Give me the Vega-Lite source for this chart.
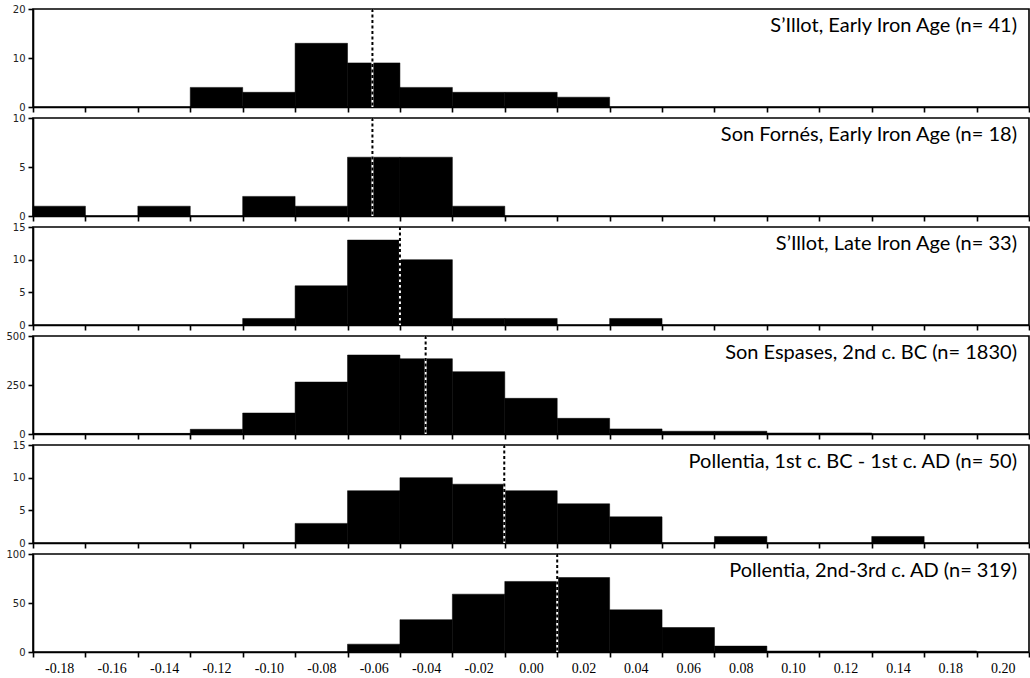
{
  "$schema": "https://vega.github.io/schema/vega-lite/v6.json",
  "padding": {"left": 5, "top": 3, "right": 2, "bottom": 0},
  "background": "white",
  "spacing": 11,
  "bounds": "flush",
  "datasets": {
    "bars": [
      {"panel": 1, "bin_start": -0.13, "bin_end": -0.11, "count": 4},
      {"panel": 1, "bin_start": -0.11, "bin_end": -0.09, "count": 3},
      {"panel": 1, "bin_start": -0.09, "bin_end": -0.07, "count": 13},
      {"panel": 1, "bin_start": -0.07, "bin_end": -0.05, "count": 9},
      {"panel": 1, "bin_start": -0.05, "bin_end": -0.03, "count": 4},
      {"panel": 1, "bin_start": -0.03, "bin_end": -0.01, "count": 3},
      {"panel": 1, "bin_start": -0.01, "bin_end": 0.01, "count": 3},
      {"panel": 1, "bin_start": 0.01, "bin_end": 0.03, "count": 2},
      {"panel": 2, "bin_start": -0.19, "bin_end": -0.17, "count": 1},
      {"panel": 2, "bin_start": -0.15, "bin_end": -0.13, "count": 1},
      {"panel": 2, "bin_start": -0.11, "bin_end": -0.09, "count": 2},
      {"panel": 2, "bin_start": -0.09, "bin_end": -0.07, "count": 1},
      {"panel": 2, "bin_start": -0.07, "bin_end": -0.05, "count": 6},
      {"panel": 2, "bin_start": -0.05, "bin_end": -0.03, "count": 6},
      {"panel": 2, "bin_start": -0.03, "bin_end": -0.01, "count": 1},
      {"panel": 3, "bin_start": -0.11, "bin_end": -0.09, "count": 1},
      {"panel": 3, "bin_start": -0.09, "bin_end": -0.07, "count": 6},
      {"panel": 3, "bin_start": -0.07, "bin_end": -0.05, "count": 13},
      {"panel": 3, "bin_start": -0.05, "bin_end": -0.03, "count": 10},
      {"panel": 3, "bin_start": -0.03, "bin_end": -0.01, "count": 1},
      {"panel": 3, "bin_start": -0.01, "bin_end": 0.01, "count": 1},
      {"panel": 3, "bin_start": 0.03, "bin_end": 0.05, "count": 1},
      {"panel": 4, "bin_start": -0.19, "bin_end": -0.17, "count": 3},
      {"panel": 4, "bin_start": -0.17, "bin_end": -0.15, "count": 3},
      {"panel": 4, "bin_start": -0.15, "bin_end": -0.13, "count": 3},
      {"panel": 4, "bin_start": -0.13, "bin_end": -0.11, "count": 24},
      {"panel": 4, "bin_start": -0.11, "bin_end": -0.09, "count": 107},
      {"panel": 4, "bin_start": -0.09, "bin_end": -0.07, "count": 265},
      {"panel": 4, "bin_start": -0.07, "bin_end": -0.05, "count": 403},
      {"panel": 4, "bin_start": -0.05, "bin_end": -0.03, "count": 384},
      {"panel": 4, "bin_start": -0.03, "bin_end": -0.01, "count": 318},
      {"panel": 4, "bin_start": -0.01, "bin_end": 0.01, "count": 182},
      {"panel": 4, "bin_start": 0.01, "bin_end": 0.03, "count": 80},
      {"panel": 4, "bin_start": 0.03, "bin_end": 0.05, "count": 26},
      {"panel": 4, "bin_start": 0.05, "bin_end": 0.07, "count": 14},
      {"panel": 4, "bin_start": 0.07, "bin_end": 0.09, "count": 14},
      {"panel": 4, "bin_start": 0.09, "bin_end": 0.11, "count": 5},
      {"panel": 4, "bin_start": 0.11, "bin_end": 0.13, "count": 5},
      {"panel": 5, "bin_start": -0.09, "bin_end": -0.07, "count": 3},
      {"panel": 5, "bin_start": -0.07, "bin_end": -0.05, "count": 8},
      {"panel": 5, "bin_start": -0.05, "bin_end": -0.03, "count": 10},
      {"panel": 5, "bin_start": -0.03, "bin_end": -0.01, "count": 9},
      {"panel": 5, "bin_start": -0.01, "bin_end": 0.01, "count": 8},
      {"panel": 5, "bin_start": 0.01, "bin_end": 0.03, "count": 6},
      {"panel": 5, "bin_start": 0.03, "bin_end": 0.05, "count": 4},
      {"panel": 5, "bin_start": 0.07, "bin_end": 0.09, "count": 1},
      {"panel": 5, "bin_start": 0.13, "bin_end": 0.15, "count": 1},
      {"panel": 6, "bin_start": -0.07, "bin_end": -0.05, "count": 8},
      {"panel": 6, "bin_start": -0.05, "bin_end": -0.03, "count": 33},
      {"panel": 6, "bin_start": -0.03, "bin_end": -0.01, "count": 59},
      {"panel": 6, "bin_start": -0.01, "bin_end": 0.01, "count": 72},
      {"panel": 6, "bin_start": 0.01, "bin_end": 0.03, "count": 76},
      {"panel": 6, "bin_start": 0.03, "bin_end": 0.05, "count": 43},
      {"panel": 6, "bin_start": 0.05, "bin_end": 0.07, "count": 25},
      {"panel": 6, "bin_start": 0.07, "bin_end": 0.09, "count": 6},
      {"panel": 6, "bin_start": 0.09, "bin_end": 0.11, "count": 1},
      {"panel": 6, "bin_start": 0.11, "bin_end": 0.13, "count": 1},
      {"panel": 6, "bin_start": 0.13, "bin_end": 0.15, "count": 1},
      {"panel": 6, "bin_start": 0.15, "bin_end": 0.17, "count": 1}
    ],
    "means": [
      {"panel": 1, "mean": -0.0605},
      {"panel": 2, "mean": -0.0605},
      {"panel": 3, "mean": -0.0500},
      {"panel": 4, "mean": -0.0402},
      {"panel": 5, "mean": -0.0102},
      {"panel": 6, "mean": 0.0100}
    ],
    "labels": [
      {"panel": 1, "label": "S’Illot, Early Iron Age (n= 41)", "xpos": 0.19, "ypos": 20},
      {"panel": 2, "label": "Son Fornés, Early Iron Age (n= 18)", "xpos": 0.19, "ypos": 10},
      {"panel": 3, "label": "S’Illot, Late Iron Age (n= 33)", "xpos": 0.19, "ypos": 15},
      {"panel": 4, "label": "Son Espases, 2nd c. BC (n= 1830)", "xpos": 0.19, "ypos": 500},
      {"panel": 5, "label": "Pollentia, 1st c. BC - 1st c. AD (n= 50)", "xpos": 0.19, "ypos": 15},
      {"panel": 6, "label": "Pollentia, 2nd-3rd c. AD (n= 319)", "xpos": 0.19, "ypos": 100}
    ]
  },
  "config": {
    "view": {"stroke": "black", "strokeWidth": 1.6},
    "axis": {"grid": false, "domainColor": "black", "domainWidth": 1.6, "tickColor": "black", "tickWidth": 1.6, "title": null},
    "axisY": {"labelFont": "DejaVu Sans", "labelFontSize": 10, "labelColor": "#222", "tickSize": 5, "labelPadding": 3, "labelOverlap": false},
    "axisX": {"tickSize": 5, "labelFont": "Liberation Serif", "labelFontSize": 14, "labelColor": "black", "labelPadding": 4},
    "text": {"font": "Lato", "fontSize": 20, "align": "right", "baseline": "alphabetic", "dx": -12, "dy": 23, "color": "black"}
  },
  "vconcat": [
    {
      "width": 996, "height": 98,
      "layer": [
        {"data": {"name": "bars"}, "transform": [{"filter": "datum.panel == 1"}],
         "mark": {"type": "bar", "color": "black", "stroke": "black", "strokeWidth": 0.5},
         "encoding": {
           "x": {"field": "bin_start", "type": "quantitative", "scale": {"domain": [-0.19, 0.19], "nice": false, "zero": false},
                 "axis": {"values": [-0.19,-0.17,-0.15,-0.13,-0.11,-0.09,-0.07,-0.05,-0.03,-0.01,0.01,0.03,0.05,0.07,0.09,0.11,0.13,0.15,0.17,0.19], "labels": false}},
           "x2": {"field": "bin_end"},
           "y": {"field": "count", "type": "quantitative", "scale": {"domain": [0, 20], "nice": false}, "axis": {"values": [0, 10, 20]}},
           "y2": {"datum": 0}
         }},
        {"data": {"name": "means"}, "transform": [{"filter": "datum.panel == 1"}],
         "mark": {"type": "rule", "color": "white", "strokeWidth": 2},
         "encoding": {"x": {"field": "mean", "type": "quantitative"}}},
        {"data": {"name": "means"}, "transform": [{"filter": "datum.panel == 1"}],
         "mark": {"type": "rule", "color": "black", "strokeWidth": 2, "strokeDash": [3, 2.5]},
         "encoding": {"x": {"field": "mean", "type": "quantitative"}}},
        {"data": {"name": "labels"}, "transform": [{"filter": "datum.panel == 1"}],
         "mark": {"type": "text"},
         "encoding": {"x": {"field": "xpos", "type": "quantitative"}, "y": {"field": "ypos", "type": "quantitative", "axis": {"values": [0, 10, 20]}}, "text": {"field": "label"}}}
      ]
    },
    {
      "width": 996, "height": 98,
      "layer": [
        {"data": {"name": "bars"}, "transform": [{"filter": "datum.panel == 2"}],
         "mark": {"type": "bar", "color": "black", "stroke": "black", "strokeWidth": 0.5},
         "encoding": {
           "x": {"field": "bin_start", "type": "quantitative", "scale": {"domain": [-0.19, 0.19], "nice": false, "zero": false},
                 "axis": {"values": [-0.19,-0.17,-0.15,-0.13,-0.11,-0.09,-0.07,-0.05,-0.03,-0.01,0.01,0.03,0.05,0.07,0.09,0.11,0.13,0.15,0.17,0.19], "labels": false}},
           "x2": {"field": "bin_end"},
           "y": {"field": "count", "type": "quantitative", "scale": {"domain": [0, 10], "nice": false}, "axis": {"values": [0, 5, 10]}},
           "y2": {"datum": 0}
         }},
        {"data": {"name": "means"}, "transform": [{"filter": "datum.panel == 2"}],
         "mark": {"type": "rule", "color": "white", "strokeWidth": 2},
         "encoding": {"x": {"field": "mean", "type": "quantitative"}}},
        {"data": {"name": "means"}, "transform": [{"filter": "datum.panel == 2"}],
         "mark": {"type": "rule", "color": "black", "strokeWidth": 2, "strokeDash": [3, 2.5]},
         "encoding": {"x": {"field": "mean", "type": "quantitative"}}},
        {"data": {"name": "labels"}, "transform": [{"filter": "datum.panel == 2"}],
         "mark": {"type": "text"},
         "encoding": {"x": {"field": "xpos", "type": "quantitative"}, "y": {"field": "ypos", "type": "quantitative", "axis": {"values": [0, 5, 10]}}, "text": {"field": "label"}}}
      ]
    },
    {
      "width": 996, "height": 98,
      "layer": [
        {"data": {"name": "bars"}, "transform": [{"filter": "datum.panel == 3"}],
         "mark": {"type": "bar", "color": "black", "stroke": "black", "strokeWidth": 0.5},
         "encoding": {
           "x": {"field": "bin_start", "type": "quantitative", "scale": {"domain": [-0.19, 0.19], "nice": false, "zero": false},
                 "axis": {"values": [-0.19,-0.17,-0.15,-0.13,-0.11,-0.09,-0.07,-0.05,-0.03,-0.01,0.01,0.03,0.05,0.07,0.09,0.11,0.13,0.15,0.17,0.19], "labels": false}},
           "x2": {"field": "bin_end"},
           "y": {"field": "count", "type": "quantitative", "scale": {"domain": [0, 15], "nice": false}, "axis": {"values": [0, 5, 10, 15]}},
           "y2": {"datum": 0}
         }},
        {"data": {"name": "means"}, "transform": [{"filter": "datum.panel == 3"}],
         "mark": {"type": "rule", "color": "white", "strokeWidth": 2},
         "encoding": {"x": {"field": "mean", "type": "quantitative"}}},
        {"data": {"name": "means"}, "transform": [{"filter": "datum.panel == 3"}],
         "mark": {"type": "rule", "color": "black", "strokeWidth": 2, "strokeDash": [3, 2.5]},
         "encoding": {"x": {"field": "mean", "type": "quantitative"}}},
        {"data": {"name": "labels"}, "transform": [{"filter": "datum.panel == 3"}],
         "mark": {"type": "text"},
         "encoding": {"x": {"field": "xpos", "type": "quantitative"}, "y": {"field": "ypos", "type": "quantitative", "axis": {"values": [0, 5, 10, 15]}}, "text": {"field": "label"}}}
      ]
    },
    {
      "width": 996, "height": 98,
      "layer": [
        {"data": {"name": "bars"}, "transform": [{"filter": "datum.panel == 4"}],
         "mark": {"type": "bar", "color": "black", "stroke": "black", "strokeWidth": 0.5},
         "encoding": {
           "x": {"field": "bin_start", "type": "quantitative", "scale": {"domain": [-0.19, 0.19], "nice": false, "zero": false},
                 "axis": {"values": [-0.19,-0.17,-0.15,-0.13,-0.11,-0.09,-0.07,-0.05,-0.03,-0.01,0.01,0.03,0.05,0.07,0.09,0.11,0.13,0.15,0.17,0.19], "labels": false}},
           "x2": {"field": "bin_end"},
           "y": {"field": "count", "type": "quantitative", "scale": {"domain": [0, 500], "nice": false}, "axis": {"values": [0, 250, 500]}},
           "y2": {"datum": 0}
         }},
        {"data": {"name": "means"}, "transform": [{"filter": "datum.panel == 4"}],
         "mark": {"type": "rule", "color": "white", "strokeWidth": 2},
         "encoding": {"x": {"field": "mean", "type": "quantitative"}}},
        {"data": {"name": "means"}, "transform": [{"filter": "datum.panel == 4"}],
         "mark": {"type": "rule", "color": "black", "strokeWidth": 2, "strokeDash": [3, 2.5]},
         "encoding": {"x": {"field": "mean", "type": "quantitative"}}},
        {"data": {"name": "labels"}, "transform": [{"filter": "datum.panel == 4"}],
         "mark": {"type": "text"},
         "encoding": {"x": {"field": "xpos", "type": "quantitative"}, "y": {"field": "ypos", "type": "quantitative", "axis": {"values": [0, 250, 500]}}, "text": {"field": "label"}}}
      ]
    },
    {
      "width": 996, "height": 98,
      "layer": [
        {"data": {"name": "bars"}, "transform": [{"filter": "datum.panel == 5"}],
         "mark": {"type": "bar", "color": "black", "stroke": "black", "strokeWidth": 0.5},
         "encoding": {
           "x": {"field": "bin_start", "type": "quantitative", "scale": {"domain": [-0.19, 0.19], "nice": false, "zero": false},
                 "axis": {"values": [-0.19,-0.17,-0.15,-0.13,-0.11,-0.09,-0.07,-0.05,-0.03,-0.01,0.01,0.03,0.05,0.07,0.09,0.11,0.13,0.15,0.17,0.19], "labels": false}},
           "x2": {"field": "bin_end"},
           "y": {"field": "count", "type": "quantitative", "scale": {"domain": [0, 15], "nice": false}, "axis": {"values": [0, 5, 10, 15]}},
           "y2": {"datum": 0}
         }},
        {"data": {"name": "means"}, "transform": [{"filter": "datum.panel == 5"}],
         "mark": {"type": "rule", "color": "white", "strokeWidth": 2},
         "encoding": {"x": {"field": "mean", "type": "quantitative"}}},
        {"data": {"name": "means"}, "transform": [{"filter": "datum.panel == 5"}],
         "mark": {"type": "rule", "color": "black", "strokeWidth": 2, "strokeDash": [3, 2.5]},
         "encoding": {"x": {"field": "mean", "type": "quantitative"}}},
        {"data": {"name": "labels"}, "transform": [{"filter": "datum.panel == 5"}],
         "mark": {"type": "text"},
         "encoding": {"x": {"field": "xpos", "type": "quantitative"}, "y": {"field": "ypos", "type": "quantitative", "axis": {"values": [0, 5, 10, 15]}}, "text": {"field": "label"}}}
      ]
    },
    {
      "width": 996, "height": 98,
      "layer": [
        {"data": {"name": "bars"}, "transform": [{"filter": "datum.panel == 6"}],
         "mark": {"type": "bar", "color": "black", "stroke": "black", "strokeWidth": 0.5},
         "encoding": {
           "x": {"field": "bin_start", "type": "quantitative", "scale": {"domain": [-0.19, 0.19], "nice": false, "zero": false},
                 "axis": {"values": [-0.19,-0.17,-0.15,-0.13,-0.11,-0.09,-0.07,-0.05,-0.03,-0.01,0.01,0.03,0.05,0.07,0.09,0.11,0.13,0.15,0.17,0.19],
                          "labels": true, "labelOffset": 26.2, "labelAlign": "center", "labelOverlap": false, "labelFlush": false, "labelBound": false,
                          "labelExpr": "datum.value > 0.185 ? '' : datum.value > 0.165 ? '0.20' : datum.value > 0.145 ? '0.18' : replace(format(round((datum.value + 0.01) * 100) / 100, '.2f'), '−', '-')"}},
           "x2": {"field": "bin_end"},
           "y": {"field": "count", "type": "quantitative", "scale": {"domain": [0, 100], "nice": false}, "axis": {"values": [0, 50, 100]}},
           "y2": {"datum": 0}
         }},
        {"data": {"name": "means"}, "transform": [{"filter": "datum.panel == 6"}],
         "mark": {"type": "rule", "color": "white", "strokeWidth": 2},
         "encoding": {"x": {"field": "mean", "type": "quantitative"}}},
        {"data": {"name": "means"}, "transform": [{"filter": "datum.panel == 6"}],
         "mark": {"type": "rule", "color": "black", "strokeWidth": 2, "strokeDash": [3, 2.5]},
         "encoding": {"x": {"field": "mean", "type": "quantitative"}}},
        {"data": {"name": "labels"}, "transform": [{"filter": "datum.panel == 6"}],
         "mark": {"type": "text"},
         "encoding": {"x": {"field": "xpos", "type": "quantitative"}, "y": {"field": "ypos", "type": "quantitative", "axis": {"values": [0, 50, 100]}}, "text": {"field": "label"}}}
      ]
    }
  ]
}
